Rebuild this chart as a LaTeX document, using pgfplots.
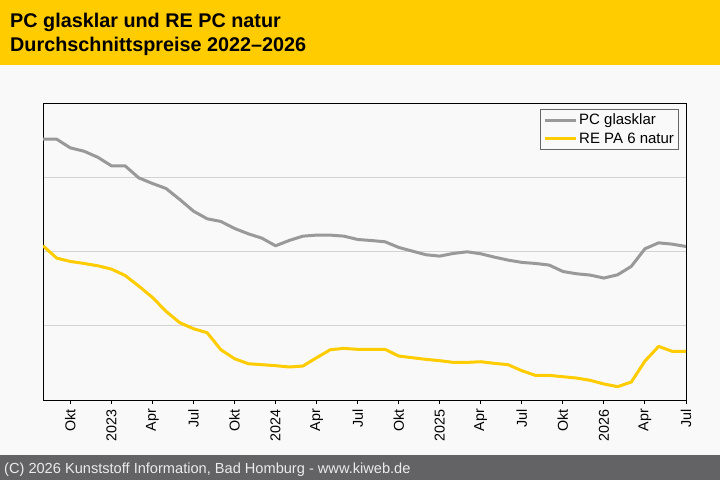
\documentclass[border=0pt]{standalone}
\usepackage{pgfplots}
\pgfplotsset{compat=1.18}
\usepackage{fontspec}
\setmainfont{Liberation Sans}
\definecolor{kiyellow}{HTML}{FFCC00}
\definecolor{kigray}{HTML}{999999}
\definecolor{kibg}{HTML}{F9F9F9}
\definecolor{kifoot}{HTML}{636366}
\definecolor{kigrid}{HTML}{D3D3D3}
\begin{document}
\begin{tikzpicture}[x=1pt,y=1pt]
\useasboundingbox (0,0) rectangle (720,480);
\fill[kibg] (0,0) rectangle (720,480);
\fill[kiyellow] (0,414.5) rectangle (720,480);
\fill[kifoot] (0,0) rectangle (720,25);
\node[anchor=base west,inner sep=0pt,font=\fontsize{19.8}{22}\selectfont\bfseries] at (10,452) {PC glasklar und RE PC natur};
\node[anchor=base west,inner sep=0pt,font=\fontsize{19.8}{22}\selectfont\bfseries] at (10,428) {Durchschnittspreise 2022–2026};
\node[anchor=base west,inner sep=0pt,text=white!92!black,font=\fontsize{14.6}{18}\selectfont] at (4,7) {(C) 2026 Kunststoff Information, Bad Homburg - www.kiweb.de};
\begin{axis}[
  at={(43pt,80pt)}, anchor=south west,
  width=643pt, height=296.7pt, scale only axis,
  xmin=0, xmax=47, ymin=0, ymax=4,
  axis background/.style={fill=kibg},
  axis line style={black, line width=1pt},
  ytick={1,2,3}, yticklabels={},
  major tick length=4pt,
  ymajorgrids, grid style={kigrid, line width=1pt},
  xtick={2,5,8,11,14,17,20,23,26,29,32,35,38,41,44,47},
  xticklabels={Okt,2023,Apr,Jul,Okt,2024,Apr,Jul,Okt,2025,Apr,Jul,Okt,2026,Apr,Jul},
  x tick style={black, line width=1pt},
  xtick pos=bottom, tick align=outside,
  y tick style={draw=none},
  xticklabel style={rotate=90, anchor=east, inner sep=0pt, font=\fontsize{14.3}{16}\selectfont, xshift=-5pt},
  legend style={at={(1,1)}, anchor=north east, xshift=-7pt, yshift=-5.7pt,
    draw=black!60, fill=kibg, line width=1pt, font=\fontsize{15}{17}\selectfont,
    row sep=2.5pt, inner sep=2.5pt},
  legend cell align=left,
  legend image code/.code={\draw[#1, line width=3pt] (0pt,0pt) -- (31pt,0pt);},
  clip=true,
]
\addplot[kigray, line width=3pt, line join=round] coordinates {
(0,3.516) (1,3.516) (2,3.399) (3,3.354) (4,3.273) (5,3.157) (6,3.157) (7,2.995)
(8,2.919) (9,2.851) (10,2.703) (11,2.546) (12,2.443) (13,2.407) (14,2.313) (15,2.241)
(16,2.182) (17,2.079) (18,2.151) (19,2.209) (20,2.223) (21,2.223) (22,2.209) (23,2.164)
(24,2.150) (25,2.133) (26,2.057) (27,2.007) (28,1.958) (29,1.940) (30,1.976) (31,1.998)
(32,1.971) (33,1.926) (34,1.886) (35,1.855) (36,1.841) (37,1.819) (38,1.733) (39,1.702)
(40,1.684) (41,1.644) (42,1.688) (43,1.801) (44,2.039) (45,2.119) (46,2.101) (47,2.070)
};
\addlegendentry{PC glasklar}
\addplot[kiyellow, line width=3pt, line join=round] coordinates {
(0,2.079) (1,1.913) (2,1.868) (3,1.841) (4,1.810) (5,1.765) (6,1.679) (7,1.536)
(8,1.383) (9,1.194) (10,1.042) (11,0.961) (12,0.907) (13,0.678) (14,0.557) (15,0.489)
(16,0.476) (17,0.463) (18,0.445) (19,0.458) (20,0.570) (21,0.678) (22,0.696) (23,0.683)
(24,0.683) (25,0.683) (26,0.593) (27,0.570) (28,0.548) (29,0.530) (30,0.507) (31,0.507)
(32,0.516) (33,0.494) (34,0.476) (35,0.395) (36,0.332) (37,0.332) (38,0.314) (39,0.296)
(40,0.265) (41,0.216) (42,0.180) (43,0.242) (44,0.525) (45,0.723) (46,0.656) (47,0.656)
};
\addlegendentry{RE PA 6 natur}
\end{axis}
\end{tikzpicture}
\end{document}
